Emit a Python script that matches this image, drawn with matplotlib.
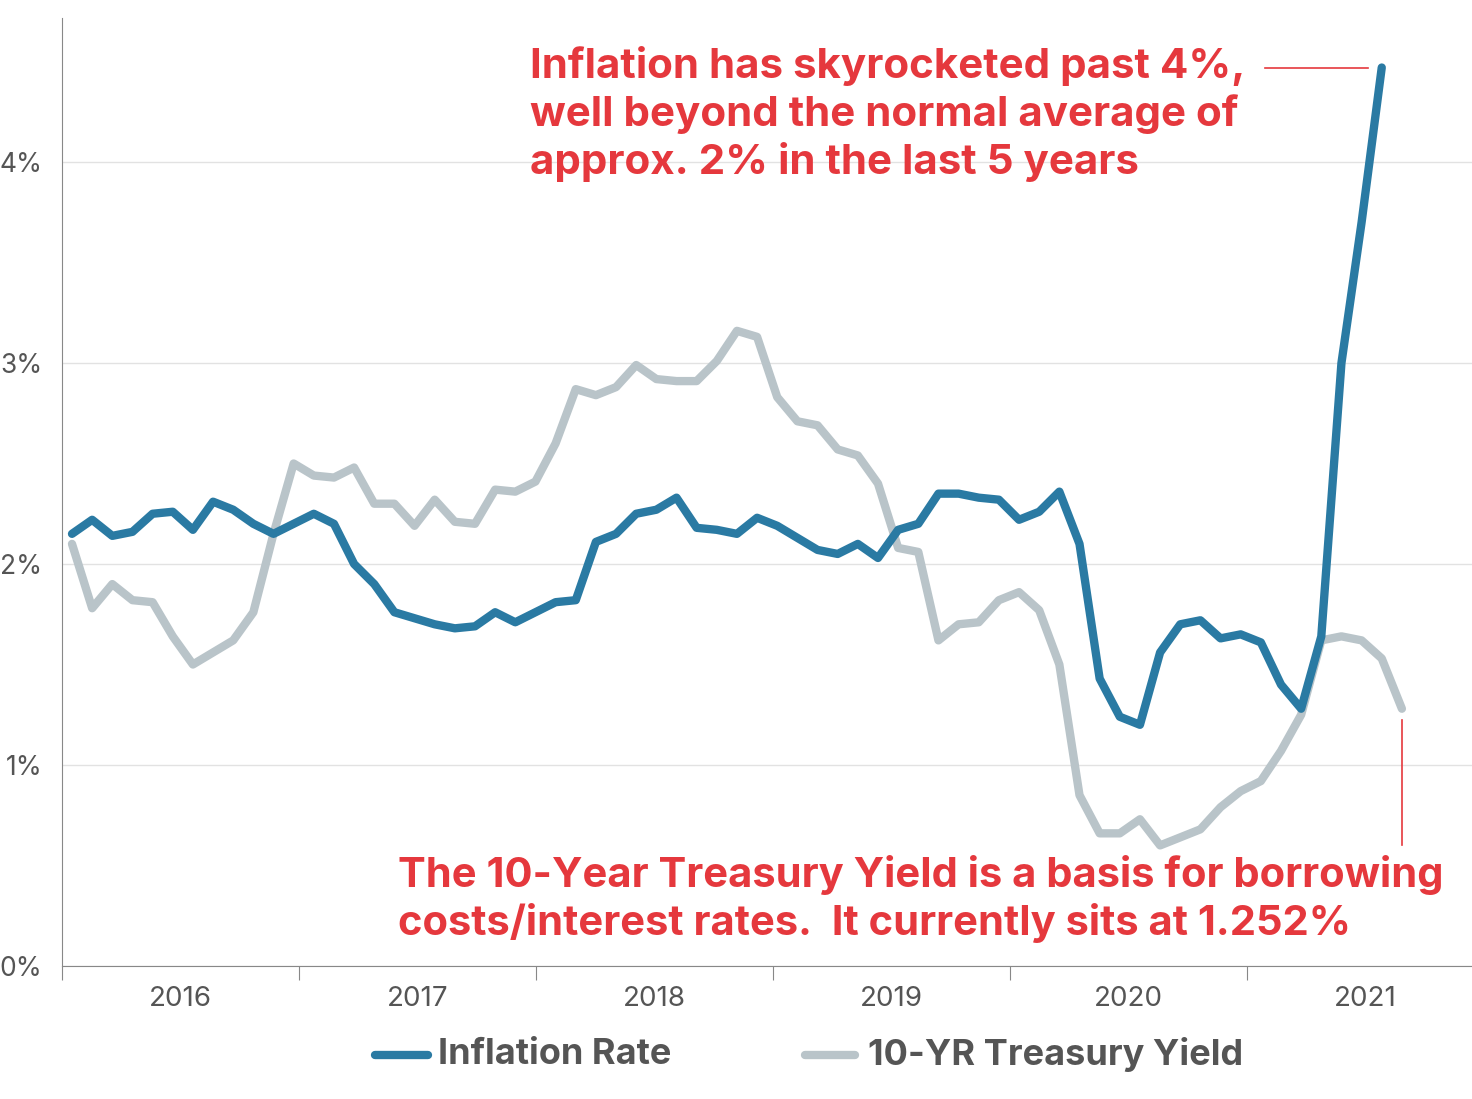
import matplotlib
matplotlib.use("Agg")
import matplotlib.pyplot as plt
from matplotlib.lines import Line2D

inflation = [2.15,2.22,2.14,2.16,2.25,2.26,2.17,2.31,2.27,2.20,2.15,2.20,2.25,2.20,2.00,1.90,1.76,1.73,1.70,1.68,
             1.69,1.76,1.71,1.76,1.81,1.82,2.11,2.15,2.25,2.27,2.33,2.18,2.17,2.15,2.23,2.19,2.13,2.07,2.05,2.10,
             2.03,2.17,2.20,2.35,2.35,2.33,2.32,2.22,2.26,2.36,2.10,1.43,1.24,1.20,1.56,1.70,1.72,1.63,1.65,1.61,
             1.40,1.28,1.64,3.00,3.70,4.47]
treasury = [2.10,1.78,1.90,1.82,1.81,1.64,1.50,1.56,1.62,1.76,2.15,2.50,2.44,2.43,2.48,2.30,2.30,2.19,2.32,2.21,
            2.20,2.37,2.36,2.41,2.60,2.87,2.84,2.88,2.99,2.92,2.91,2.91,3.01,3.16,3.13,2.83,2.71,2.69,2.57,2.54,
            2.40,2.08,2.06,1.62,1.70,1.71,1.82,1.86,1.77,1.50,0.85,0.66,0.66,0.73,0.60,0.64,0.68,0.79,0.87,0.92,
            1.07,1.25,1.62,1.64,1.62,1.53,1.28]
years = ["2016","2017","2018","2019","2020","2021"]
yticks = [0,1,2,3,4]

BLUE = "#2a7aa3"; GRAY = "#b9c4c9"; RED = "#e5383d"; TXT = "#555555"
plt.rcParams['font.family'] = ['Inter', 'DejaVu Sans']

fig = plt.figure(figsize=(14.72, 10.99), dpi=100)
ax = fig.add_axes([62/1472, 133/1099, 1-62/1472, (966-18)/1099])
step = 20.15
x0 = 72
ax.set_xlim((62-x0)/step, (1472-x0)/step)
ax.set_ylim(0, (966-18)/201)

ax.plot(range(len(treasury)), treasury, color=GRAY, lw=6, solid_capstyle='round', solid_joinstyle='round', zorder=2)
ax.plot(range(len(inflation)), inflation, color=BLUE, lw=6, solid_capstyle='round', solid_joinstyle='round', zorder=3)

for s in ['top', 'right']:
    ax.spines[s].set_visible(False)
ax.spines['left'].set_color('#888888'); ax.spines['bottom'].set_color('#888888')
ax.set_yticks(yticks)
ax.set_yticklabels([f"{v}%" for v in yticks], fontsize=19, color=TXT)
ax.tick_params(axis='y', length=0, pad=14)
ax.grid(axis='y', color='#e2e2e2', lw=1)
ax.set_axisbelow(True)

bounds = [(62 + 237*k - x0)/step for k in range(6)]
ax.set_xticks(bounds)
ax.set_xticklabels([])
ax.tick_params(axis='x', length=10, color='#888888')
mids = [b + 237/2/step for b in bounds]
for m, y in zip(mids, years):
    ax.text(m, -0.1, y, ha='center', va='top', fontsize=20, color=TXT)

ax.plot([(1265-x0)/step, (1368-x0)/step], [4.47, 4.47], color=RED, lw=1.2)
ax.plot([len(treasury)-1, len(treasury)-1], [(966-720)/201, (966-845)/201], color=RED, lw=1.2)

fig.text(530/1472, 1-46/1099,
         "Inflation has skyrocketed past 4%,\nwell beyond the normal average of\napprox. 2% in the last 5 years",
         ha='left', va='top', fontsize=30.3, fontweight='bold', color=RED, linespacing=1.25)
fig.text(398/1472, 1-855/1099,
         "The 10-Year Treasury Yield is a basis for borrowing\ncosts/interest rates.  It currently sits at 1.252%",
         ha='left', va='top', fontsize=30, fontweight='bold', color=RED, linespacing=1.25)

fig.add_artist(Line2D([375/1472, 428/1472], [1-1055/1099]*2, color=BLUE, lw=6, solid_capstyle='round'))
fig.text(438/1472, 1-1055/1099, "Inflation Rate", ha='left', va='center', fontsize=26, fontweight='bold', color=TXT)
fig.add_artist(Line2D([805/1472, 855/1472], [1-1055/1099]*2, color=GRAY, lw=6, solid_capstyle='round'))
fig.text(868/1472, 1-1055/1099, "10-YR Treasury Yield", ha='left', va='center', fontsize=26, fontweight='bold', color=TXT)

fig.savefig("out.png", dpi=100)
